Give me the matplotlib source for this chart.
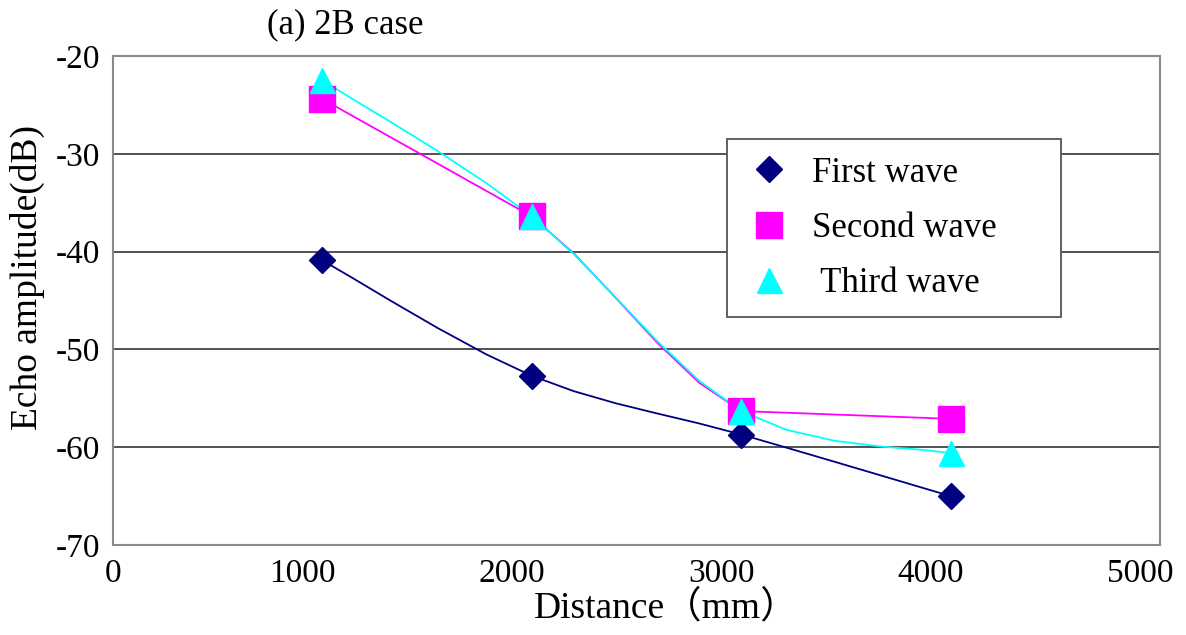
import numpy as np
import matplotlib
matplotlib.use("Agg")
import matplotlib.pyplot as plt
import matplotlib.transforms as mtransforms
from matplotlib.lines import Line2D

distance = [1000, 2000, 3000, 4000]
first_wave = [-40.9, -52.7, -58.7, -65.0]
second_wave = [-24.4, -36.4, -56.3, -57.1]
third_wave = [-22.5, -36.4, -56.3, -60.6]
series_names = ["First wave", "Second wave", " Third wave"]
x_ticks = [0, 1000, 2000, 3000, 4000, 5000]
y_ticks = [-70, -60, -50, -40, -30, -20]

SERIF = ["Liberation Serif", "Noto Sans CJK JP", "DejaVu Sans"]
plt.rcParams["font.family"] = SERIF


def smooth(xs, ys, xr, yr, curved, n=6):
    # Excel-style smoothed line (cubic Bezier, Catmull-Rom control points), in normalized space;
    # `curved` says per segment whether it is bent or drawn straight
    px = np.asarray(xs, float) / xr
    py = np.asarray(ys, float) / yr
    P = np.column_stack([px, py])
    out = [P[0]]
    m = len(P)
    for i in range(m - 1):
        p1 = P[i]
        p2 = P[i + 1]
        if curved[i]:
            p0 = P[i - 1] if i > 0 else P[i]
            p3 = P[i + 2] if i + 2 < m else P[i + 1]
            c1 = p1 + (p2 - p0) / 6.0
            c2 = p2 - (p3 - p1) / 6.0
        else:
            c1, c2 = p1, p2
        t = np.linspace(0, 1, n)[1:, None]
        seg = ((1 - t) ** 3) * p1 + 3 * ((1 - t) ** 2) * t * c1 + 3 * (1 - t) * t ** 2 * c2 + t ** 3 * p2
        out.extend(seg)
    out = np.array(out)
    return out[:, 0] * xr, out[:, 1] * yr


fig = plt.figure(figsize=(11.86, 6.35), dpi=100)
ax = fig.add_axes([0.0953, 0.1417, 0.9781 - 0.0953, 0.9118 - 0.1417])

# (values, colour, marker, size, curved segments)
styles = [
    (first_wave, "#000080", "D", 13.5, [True, True, True]),
    (second_wave, "#FF00FF", "s", 19, [False, True, False]),
    (third_wave, "#00FFFF", "^", 18, [True, True, True]),
]

handles = []
for (vals, col, mk, ms, curved), name in zip(styles, series_names):
    sx, sy = smooth(distance, vals, 5000.0, 50.0, curved)
    ax.plot(sx, sy, color=col, lw=1.3, zorder=3)
    ax.plot(distance, vals, linestyle="none", marker=mk, markersize=ms,
            color=col, markeredgecolor=col, zorder=4)
    handles.append(Line2D([], [], linestyle="none", marker=mk, markersize=ms,
                          color=col, markeredgecolor=col, label=name))

ax.set_xlim(0, 5000)
ax.set_ylim(-70, -20)
ax.set_xticks(x_ticks)
ax.set_yticks(y_ticks)
ax.set_xticklabels([str(v) for v in x_ticks])
ax.set_yticklabels([str(v) for v in y_ticks])
ax.tick_params(axis="both", length=0, labelsize=24)
ax.tick_params(axis="x", pad=10)
ax.tick_params(axis="y", pad=9)
shift = mtransforms.ScaledTranslation(-0.20, 0, fig.dpi_scale_trans)
for v, lbl in zip(x_ticks, ax.get_xticklabels()):
    if v != 0:
        lbl.set_transform(lbl.get_transform() + shift)

ax.yaxis.grid(True, color="#222222", lw=1.1)
ax.set_axisbelow(True)
for sp in ax.spines.values():
    sp.set_color("#8a8a8a")
    sp.set_linewidth(1.5)

fig.text(666 / 1186, 1 - 608 / 635, "Distance（mm）", fontsize=27, ha="center", va="center")
fig.text(27 / 1186, 1 - 277 / 635, "Echo amplitude(dB)", fontsize=27, ha="center", va="center",
         rotation=90)
fig.text(345 / 1186, 1 - 25 / 635, "(a) 2B case", fontsize=25, ha="center", va="center")

leg = ax.legend(handles=handles, loc="upper left",
                bbox_to_anchor=(0.5864, 0.830 - 0.356, 0.319, 0.356), mode="expand",
                fontsize=25, frameon=True, fancybox=False, borderpad=0.5,
                labelspacing=0.64, handletextpad=0.55, borderaxespad=0,
                handlelength=1.4)
leg.get_frame().set_edgecolor("#555555")
leg.get_frame().set_linewidth(1.3)
leg.get_frame().set_alpha(1)

fig.savefig("out.png", dpi=100, facecolor="white")
